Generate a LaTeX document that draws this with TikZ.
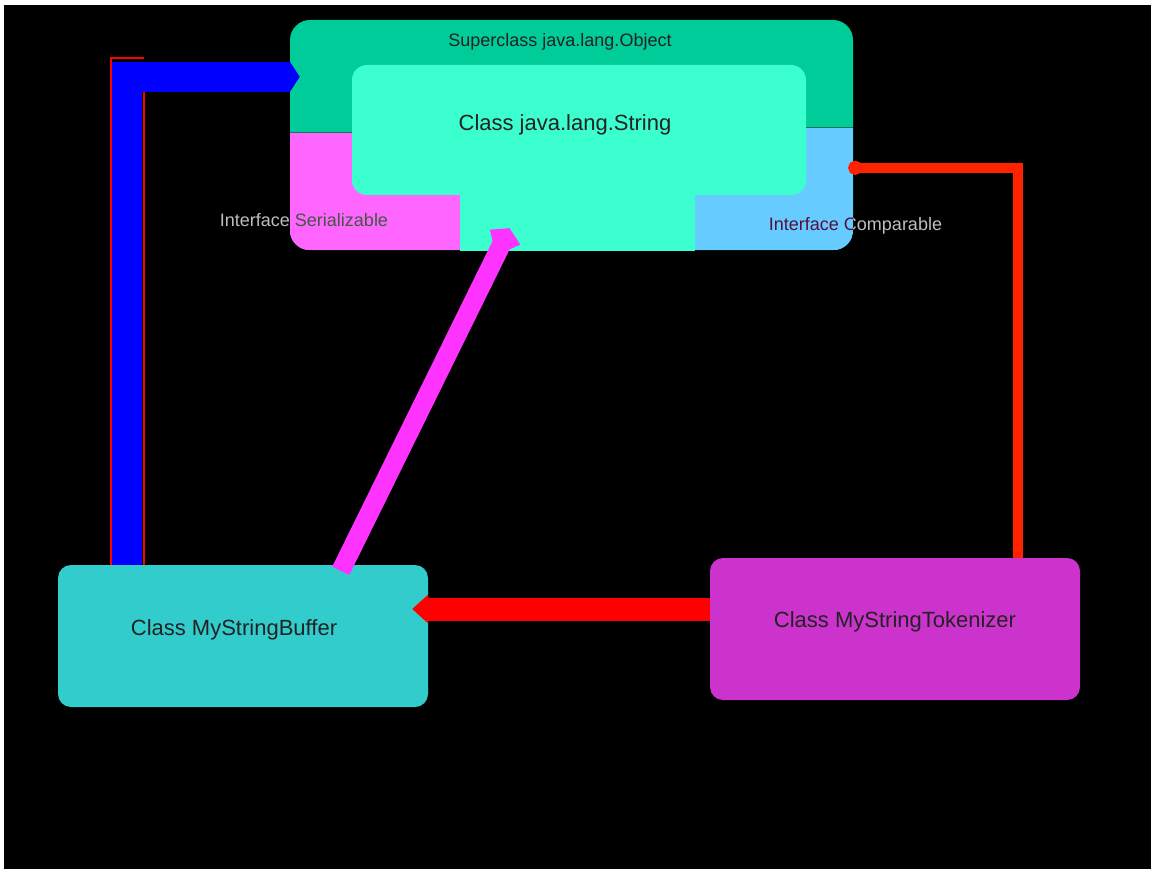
\documentclass[tikz,border=0pt]{standalone}
\usepackage{fontspec}
\setmainfont{Liberation Sans}
\usetikzlibrary{arrows.meta,calc}
\definecolor{objgreen}{HTML}{00CC99}
\definecolor{strcol}{HTML}{3CFFD0}
\definecolor{serpink}{HTML}{FF66FF}
\definecolor{cmpblue}{HTML}{66CCFF}
\definecolor{bufcol}{HTML}{33CCCC}
\definecolor{tokcol}{HTML}{CC33CC}
\definecolor{magconn}{HTML}{FF33FF}
\definecolor{redconn}{HTML}{FF0000}
\definecolor{redconnb}{HTML}{FF2200}
\definecolor{blueconn}{HTML}{0000FF}
\definecolor{txt}{HTML}{222222}
\definecolor{ifctxt}{HTML}{BEBEBE}
\definecolor{seam}{HTML}{117755}
\begin{document}
\begin{tikzpicture}[x=1pt,y=-1pt,
  classbox/.style={rounded corners=13pt, inner sep=0pt, minimum width=370pt, minimum height=142pt},
  biglbl/.style={text=txt, inner sep=0pt, font=\fontsize{22}{26}\selectfont},
  smalllbl/.style={text=txt, inner sep=0pt, font=\fontsize{18}{22}\selectfont},
  ifclbl/.style={text=ifctxt, inner sep=0pt, font=\fontsize{18}{22}\selectfont},
  bluec/.style={draw=blueconn, line width=30pt, -{Triangle[length=10pt,width=30pt]}},
  magc/.style={draw=magconn, line width=19pt, -{Kite[length=30pt,width=34pt,inset=20pt]}},
  redc/.style={draw=redconn, line width=23pt, -{Triangle[length=16pt,width=28pt]}},
  redcb/.style={draw=redconnb, line width=10pt, -{Circle[length=14pt]}}
]
\useasboundingbox (0,0) rectangle (1151,869);
\fill[white] (0,0) rectangle (1151,869);
\fill[black] (4,5) rectangle (1151,869);

% Superclass composite box
\node[fill=objgreen, rounded corners=20pt, inner sep=0pt, minimum width=563pt, minimum height=230pt] (obj) at (571.5,135) {};
\begin{scope}
  \clip[rounded corners=20pt] (obj.north west) rectangle (obj.south east);
  \fill[serpink] ($(obj.north west)+(0,113)$) rectangle ($(obj.south west)+(170,0)$);
  \fill[cmpblue] ($(obj.north east)+(-158,108)$) rectangle (obj.south east);
  \draw[seam, line width=1pt] ($(obj.north west)+(0,113)$) -- ++(70,0);
  \draw[seam, line width=1pt] ($(obj.north east)+(0,108)$) -- ++(-55,0);
\end{scope}
\node[fill=strcol, rounded corners=15pt, inner sep=0pt, minimum width=454pt, minimum height=130pt] (str) at (579,130) {};
\fill[strcol] ($(str.south west)+(108,-10)$) rectangle ($(obj.south)+(123.5,1)$);

\node[smalllbl] (objl) at (560,42) {Superclass java.lang.Object};
\node[biglbl] (strl) at (565,125) {Class java.lang.String};
\begin{scope}[blend mode=difference]
  \node[ifclbl] (serl) at (304,220) {Interface Serializable};
  \node[ifclbl] (cmpl) at (855.5,226) {Interface Comparable};
\end{scope}

% Class boxes
\node[classbox, fill=bufcol] (buf) at (243,636) {};
\node[biglbl] (bufl) at (234,630) {Class MyStringBuffer};
\node[classbox, fill=tokcol] (tok) at (895,629) {};
\node[biglbl] (tokl) at (895,622) {Class MyStringTokenizer};

% Connectors
\draw[redconn, line width=2pt] ($(buf.north west)+(53,0)$) |- ($(buf.north west)+(86,-507)$) ;
\draw[redconn, line width=2pt] ($(buf.north west)+(86,0)$) -- ($(buf.north west)+(86,-473)$);
\draw[bluec] ($(buf.north west)+(69.5,0)$) |- ($(obj.north west)+(10,57)$);
\draw[magc] ($(buf.north west)+(283,6)$) -- ($(obj.south)+(-62,-22)$);
\draw[redc] ($(tok.west)+(0,-20)$) -- ($(buf.east)+(-16,-27)$);
\draw[redcb] ($(tok.north west)+(308,0)$) |- ($(obj.north east)+(-5,148)$);
\end{tikzpicture}
\end{document}
